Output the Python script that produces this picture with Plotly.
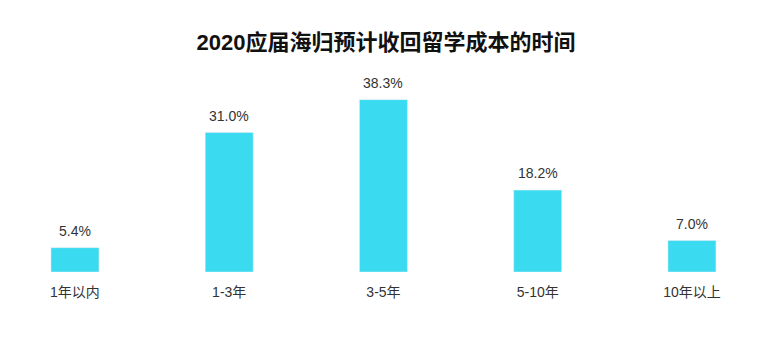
import plotly.graph_objects as go

categories = ["1年以内", "1-3年", "3-5年", "5-10年", "10年以上"]
values = [5.4, 31.0, 38.3, 18.2, 7.0]
labels = [f"{v:.1f}%" for v in values]

fig = go.Figure(go.Bar(
    x=categories, y=values,
    marker_color="rgb(58,218,240)", width=0.311, cliponaxis=False,
))
for c, v, t in zip(categories, values, labels):
    fig.add_annotation(x=c, y=v, text=t, showarrow=False, yanchor="bottom", yshift=7,
                       font=dict(size=14, color="#333333"))
fig.update_layout(
    width=772, height=354,
    margin=dict(l=0, r=0, t=92, b=82),
    paper_bgcolor="white", plot_bgcolor="white",
    font=dict(family="Liberation Sans, Noto Sans CJK SC, sans-serif", size=14, color="#333333"),
    title=dict(text="<b>2020应届海归预计收回留学成本的时间</b>", x=0.5, xanchor="center",
               y=0.88, yanchor="middle",
               font=dict(size=22, color="#111111", family="Liberation Sans, Noto Sans CJK SC, sans-serif")),
    showlegend=False,
    xaxis=dict(showline=False, ticks="", showgrid=False, ticklabelstandoff=10,
               range=[-0.486, 4.519], tickfont=dict(size=14, color="#333333")),
    yaxis=dict(range=[0, 40], visible=False, showgrid=False),
)
fig.write_html("out.html")
